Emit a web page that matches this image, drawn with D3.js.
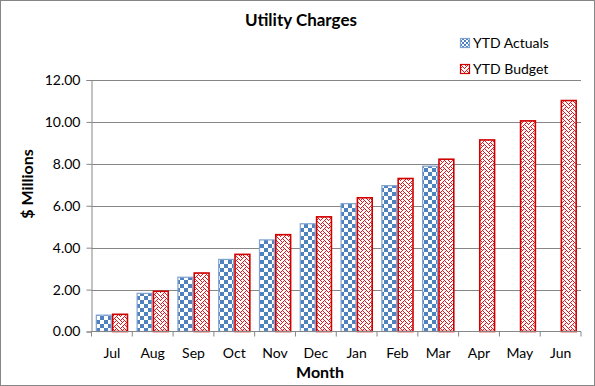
<!DOCTYPE html>
<html><head><meta charset="utf-8">
<script src="https://cdn.jsdelivr.net/npm/d3@7"></script>
<style>body{margin:0;background:#fff;} svg{display:block;font-family:Lato,"Open Sans",sans-serif;}</style>
</head><body><svg id="c" width="595" height="386"></svg>
<script>
const months = ["Jul","Aug","Sep","Oct","Nov","Dec","Jan","Feb","Mar","Apr","May","Jun"];
const actuals = [0.78,1.82,2.59,3.44,4.37,5.14,6.10,6.96,7.89,null,null,null];
const budget = [0.82,1.92,2.79,3.68,4.62,5.47,6.38,7.30,8.22,9.14,10.05,11.02];
const seriesNames = ["YTD Actuals","YTD Budget"];
const yTicks = [0,2,4,6,8,10,12];

const svg = d3.select("#c");
const W = 595, H = 386;
const m = {left:91.5, right:14, top:80, bottom:54.5};
const defs = svg.append("defs");
// checker pattern
const pc = defs.append("pattern").attr("id","checker").attr("patternUnits","userSpaceOnUse").attr("width",8).attr("height",8);
pc.append("rect").attr("width",8).attr("height",8).attr("fill","#fff");
pc.append("rect").attr("x",0).attr("y",0).attr("width",4).attr("height",4).attr("fill","#4F81BD");
pc.append("rect").attr("x",4).attr("y",4).attr("width",4).attr("height",4).attr("fill","#4F81BD");
// weave pattern
const weave = ["10001000","01010100","00100010","01000101","10001000","00010100","00100010","01010001"];
const pw = defs.append("pattern").attr("id","weave").attr("patternUnits","userSpaceOnUse").attr("width",8).attr("height",8);
pw.append("rect").attr("width",8).attr("height",8).attr("fill","#fff");
weave.forEach((row,r)=>row.split("").forEach((b,c)=>{ if(b==="1") pw.append("rect").attr("x",c).attr("y",r).attr("width",1).attr("height",1).attr("fill","#E0191E");}));
// small legend patterns
const pc2 = defs.append("pattern").attr("id","checker2").attr("patternUnits","userSpaceOnUse").attr("width",4).attr("height",4);
pc2.append("rect").attr("width",4).attr("height",4).attr("fill","#fff");
pc2.append("rect").attr("width",2).attr("height",2).attr("fill","#4F81BD");
pc2.append("rect").attr("x",2).attr("y",2).attr("width",2).attr("height",2).attr("fill","#4F81BD");

svg.append("rect").attr("x",0.5).attr("y",0.5).attr("width",W-1).attr("height",H-1).attr("fill","#fff").attr("stroke","#868686");

const x0 = d3.scaleBand().domain(months).range([m.left, W-m.right]).paddingInner(0.2).paddingOuter(0.1);
const x1 = d3.scaleBand().domain(seriesNames).range([0, x0.bandwidth()]);
const y = d3.scaleLinear().domain([0,12]).range([H-m.bottom, m.top]);

// gridlines
svg.append("g").selectAll("line").data(yTicks.filter(d=>d>0)).join("line")
  .attr("x1",m.left).attr("x2",W-m.right).attr("y1",d=>Math.round(y(d))+0.5).attr("y2",d=>Math.round(y(d))+0.5)
  .attr("stroke","#868686").attr("stroke-width",1);

// bars
const fills = {"YTD Actuals":"url(#checker)","YTD Budget":"url(#weave)"};
const strokes = {"YTD Actuals":"#7FA3D3","YTD Budget":"#D00000"};
const rows = [];
months.forEach((mo,i)=>{
  if(actuals[i]!=null) rows.push({m:mo,s:"YTD Actuals",v:actuals[i]});
  rows.push({m:mo,s:"YTD Budget",v:budget[i]});
});
svg.append("g").selectAll("rect").data(rows).join("rect")
  .attr("x",d=>x0(d.m)+x1(d.s)+0.75)
  .attr("y",d=>y(d.v))
  .attr("width",x1.bandwidth()-1.5)
  .attr("height",d=>y(0)-y(d.v))
  .attr("fill",d=>fills[d.s])
  .attr("stroke",d=>strokes[d.s]).attr("stroke-width",d=>d.s==="YTD Budget"?1.6:1.2);

// y axis
const ya = d3.axisLeft(y).tickValues(yTicks).tickFormat(d3.format(".2f")).tickSize(5).tickPadding(6);
const gy = svg.append("g").attr("transform",`translate(${m.left},0)`).call(ya);
gy.select(".domain").attr("stroke","#868686");
gy.selectAll(".tick line").attr("stroke","#868686");
gy.selectAll("text").attr("font-size",14).attr("fill","#000").attr("font-family","Lato");

// x axis
const gx = svg.append("g").attr("transform",`translate(0,${y(0)})`);
gx.append("line").attr("x1",m.left).attr("x2",W-m.right).attr("y1",0).attr("y2",0).attr("stroke","#868686");
const step = x0.step();
const bounds = d3.range(months.length+1).map(i=>x0.range()[0]+i*step);
gx.selectAll("line.t").data(bounds).join("line").attr("class","t")
  .attr("x1",d=>d).attr("x2",d=>d).attr("y1",0).attr("y2",5).attr("stroke","#868686");
gx.selectAll("text").data(months).join("text")
  .attr("x",d=>x0(d)+x0.bandwidth()/2).attr("y",26)
  .attr("text-anchor","middle").attr("font-size",14).attr("fill","#000").text(d=>d);

// titles
svg.append("text").attr("x",301).attr("y",26).attr("text-anchor","middle").attr("font-weight","bold").attr("font-size",17).text("Utility Charges");
svg.append("text").attr("x",320).attr("y",378).attr("text-anchor","middle").attr("font-weight","bold").attr("font-size",16).text("Month");
svg.append("text").attr("transform","translate(33,184) rotate(-90)").attr("text-anchor","middle").attr("font-weight","bold").attr("font-size",16).text("$ Millions");

// legend
const lg = svg.append("g");
const ly = [43, 69];
seriesNames.forEach((s,i)=>{
  lg.append("rect").attr("x",460.5).attr("y",ly[i]-4.5).attr("width",9).attr("height",9)
    .attr("fill", i===0 ? "url(#checker2)" : "url(#weave)").attr("stroke",strokes[s]).attr("stroke-width",1.2);
  lg.append("text").attr("x",473).attr("y",ly[i]+5).attr("font-size",14).text(s);
});
</script></body></html>
